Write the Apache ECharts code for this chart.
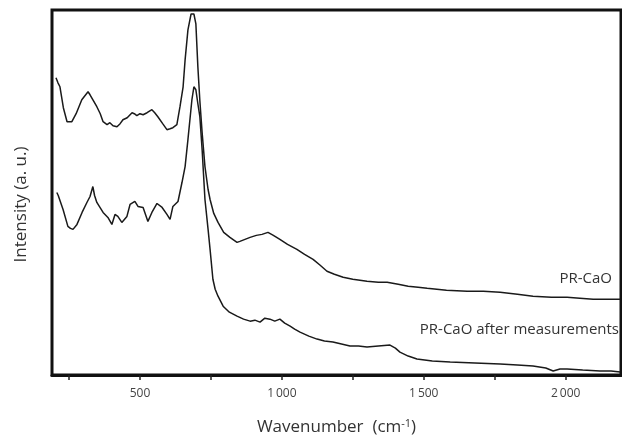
<!DOCTYPE html>
<html>
<head>
<meta charset="utf-8">
<script src="https://cdn.jsdelivr.net/npm/echarts@6/dist/echarts.min.js"></script>
<style>html,body{margin:0;padding:0;background:#fff}#c{width:622px;height:441px}</style>
</head>
<body>
<div id="c"></div>
<script>
// Wavenumber (cm-1) and intensity (a.u.)
var prCaO = [
 [204,298],[211,293],[218,289],[230,268],[243,254],[260,254],[275,262],[295,276],[317,284],[324,281],[331,283],[348,269],[360,262],[370,254],[384,251],[394,253],[405,250],[419,249],[430,252],[440,256],[455,258],[472,263],[480,262],[489,260],[500,262],[511,261],[525,263],[542,266],[552,263],[563,259],[580,252],[595,246],[606,247],[616,248],[630,251],[641,269],[652,289],[659,316],[669,346],[680,362],[685,364],[690,362],[697,352],[704,309],[711,275],[719,243],[729,209],[740,186],[747,176],[760,162],[775,153],[795,143],[817,138],[832,135],[842,133],[852,134],[870,136],[888,138],[910,140],[930,141],[951,143],[970,140],[993,136],[1020,131],[1053,126],[1080,121],[1110,116],[1135,110],[1159,104],[1185,101],[1216,98],[1250,96],[1300,94],[1340,93],[1371,93],[1410,91],[1445,89],[1480,88],[1512,87],[1580,85],[1653,84],[1710,84],[1769,83],[1830,81],[1885,79],[1950,78],[2005,78],[2050,77],[2097,76],[2150,76],[2192,76]
];
var prCaOAfter = [
 [207,183],[212,180],[218,181],[229,166],[246,149],[255,147],[264,146],[278,151],[296,163],[313,173],[324,179],[334,189],[340,180],[348,173],[370,163],[387,158],[401,151],[412,161],[422,159],[436,153],[454,159],[465,171],[482,174],[493,169],[511,168],[528,154],[542,163],[560,172],[578,168],[595,161],[606,156],[616,169],[634,174],[648,193],[659,209],[669,236],[683,276],[690,289],[697,286],[704,272],[711,259],[719,226],[729,176],[740,146],[747,126],[757,96],[765,86],[775,79],[793,69],[815,63],[842,59],[865,56],[888,54],[905,55],[923,53],[940,57],[958,56],[975,54],[993,56],[1010,52],[1029,49],[1045,46],[1064,43],[1095,39],[1124,36],[1150,34],[1180,33],[1210,31],[1240,29],[1270,29],[1300,28],[1340,29],[1381,30],[1400,27],[1416,23],[1445,19],[1476,16],[1530,14],[1593,13],[1680,12],[1769,11],[1830,10],[1885,9],[1930,7],[1956,4],[1980,6],[2005,6],[2060,5],[2121,4],[2160,4],[2192,3]
];
var xLabelValues = [500, 1000, 1500, 2000];
var xTickValues = [250, 500, 750, 1000, 1250, 1500, 1750, 2000];
var seriesNames = ['PR-CaO', 'PR-CaO after measurements'];

var chart = echarts.init(document.getElementById('c'), null, {renderer: 'canvas'});
var fam = '"Open Sans", "Noto Sans", sans-serif';
chart.setOption({
  animation: false,
  backgroundColor: '#fff',
  grid: {left: 52, top: 10, right: 1, bottom: 65, show: true, borderColor: '#111', borderWidth: 3, backgroundColor: 'transparent'},
  xAxis: {
    type: 'value', min: 190, max: 2195,
    axisLine: {show: true, onZero: false, lineStyle: {color: '#111', width: 3}},
    axisTick: {show: true, inside: false, length: 5, customValues: xTickValues, lineStyle: {color: '#222', width: 1.5}},
    axisLabel: {show: true, customValues: xLabelValues, margin: 13, color: '#444', fontFamily: fam, fontSize: 12,
      formatter: function (v) { return v >= 1000 ? String(v).replace(/(\d)(\d{3})$/, '$1\u2009$2') : String(v); }},
    splitLine: {show: false},
    name: 'Wavenumber  (cm{sup|-1})', nameLocation: 'middle', nameGap: 43,
    nameTextStyle: {color: '#333', fontFamily: fam, fontSize: 17, rich: {sup: {fontSize: 11, verticalAlign: 'top', padding: [0,0,8,0], color: '#333', fontFamily: fam}}}
  },
  yAxis: {
    type: 'value', min: 0, max: 366,
    axisLine: {show: false}, axisTick: {show: false}, axisLabel: {show: false}, splitLine: {show: false},
    name: 'Intensity (a. u.)', nameLocation: 'middle', nameGap: 22,
    nameTextStyle: {color: '#333', fontFamily: fam, fontSize: 17, padding: [0, 0, 0, -24]}
  },
  series: [
    {name: seriesNames[0], type: 'line', data: prCaO, showSymbol: false, smooth: false, lineStyle: {color: '#1a1a1a', width: 1.5}},
    {name: seriesNames[1], type: 'line', data: prCaOAfter, showSymbol: false, smooth: false, lineStyle: {color: '#1a1a1a', width: 1.5}}
  ],
  graphic: [
    {type: 'text', right: 10, top: 271, style: {text: seriesNames[0], fill: '#333', font: '15px ' + fam}},
    {type: 'text', right: 3, top: 322, style: {text: seriesNames[1], fill: '#333', font: '15px ' + fam}}
  ]
});
</script>
</body>
</html>
